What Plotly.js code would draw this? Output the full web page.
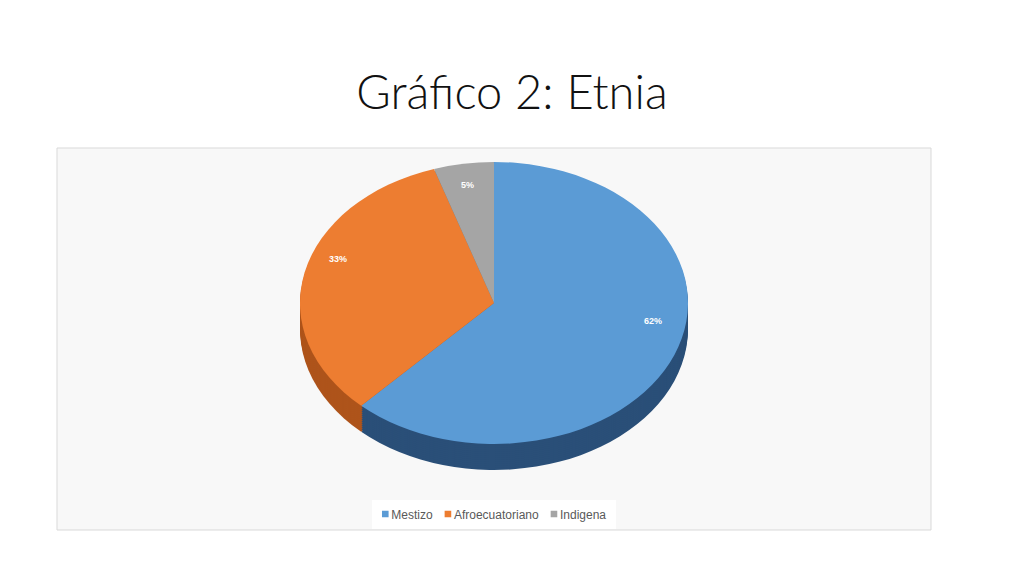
<!DOCTYPE html>
<html>
<head>
<meta charset="utf-8">
<script src="https://cdn.plot.ly/plotly-3.0.1.min.js"></script>
<style>
  html, body { margin: 0; padding: 0; background: #ffffff; }
  #chart { width: 1024px; height: 576px; }
</style>
</head>
<body>
<div id="chart"></div>
<script>
// datos del gráfico
const categorias = ['Mestizo', 'Afroecuatoriano', 'Indigena'];
const valores = [62, 33, 5];
const coloresCara = ['#5B9BD5', '#ED7D31', '#A5A5A5'];
const coloresLado = ['#2A4F78', '#AE541B', '#707070'];

const W = 1024, H = 576;
const cx = 494;          // centro horizontal del pastel (px)
const cy = 303;          // centro vertical de la cara superior (px)
const R = 194;           // radio horizontal (px)
const s = 141 / R;       // aplanado vertical (efecto 3D)
const depth = 26;        // grosor del lateral (px)

// dominio de un pastel centrado en (cx, yc) antes del aplanado
function dominio(yc) {
    return {
        x: [(cx - R) / W, (cx + R) / W],
        y: [(H - yc - R) / H, (H - yc + R) / H]
    };
}

const data = [];

// capas del lateral, de abajo hacia arriba
for (let d = depth; d > 0; d -= 2) {
    data.push({
        type: 'pie',
        labels: categorias,
        values: valores,
        sort: false,
        direction: 'clockwise',
        rotation: 0,
        textinfo: 'none',
        hoverinfo: 'skip',
        showlegend: false,
        marker: { colors: coloresLado, line: { width: 0 } },
        domain: dominio(cy + d / s)
    });
}

// cara superior
data.push({
    type: 'pie',
    labels: categorias,
    values: valores,
    sort: false,
    direction: 'clockwise',
    rotation: 0,
    textinfo: 'none',
    hoverinfo: 'label+percent',
    marker: { colors: coloresCara, line: { width: 0 } },
    domain: dominio(cy)
});

// etiquetas de porcentaje a partir de los valores
const total = valores.reduce((a, b) => a + b, 0);
const annotations = [];
let acumulado = 0;
const cyEtiqueta = 282, kx = 0.88, ky = 0.75;
valores.forEach((v, i) => {
    const medio = (acumulado + v / 2) / total;
    acumulado += v;
    const th = 2 * Math.PI * medio;
    const px = cx + kx * R * Math.sin(th);
    const py = cyEtiqueta - ky * R * s * Math.cos(th);
    annotations.push({
        xref: 'paper', yref: 'paper',
        x: px / W, y: 1 - py / H,
        text: Math.round(v / total * 100) + '%',
        showarrow: false,
        font: { family: 'Liberation Sans, Arial', size: 9, color: '#FFFFFF', weight: 'bold' }
    });
});

const layout = {
    width: W,
    height: H,
    margin: { l: 0, r: 0, t: 0, b: 0 },
    paper_bgcolor: '#FFFFFF',
    title: {
        text: 'Gráfico 2: Etnia',
        x: 0.5, xref: 'paper', xanchor: 'center',
        y: 1 - 93 / H, yref: 'container', yanchor: 'middle',
        font: { family: 'Lato, Open Sans, sans-serif', size: 47, color: '#111111', weight: 300 }
    },
    shapes: [{
        type: 'rect', xref: 'paper', yref: 'paper', layer: 'below',
        x0: 57 / W, x1: 931 / W, y0: 1 - 530 / H, y1: 1 - 148 / H,
        line: { color: '#D9D9D9', width: 1 },
        fillcolor: '#F8F8F8'
    }],
    annotations: annotations,
    legend: {
        orientation: 'h',
        x: 0.5, xanchor: 'center',
        y: 1 - 514 / H, yanchor: 'middle',
        bgcolor: '#FFFFFF',
        font: { family: 'Liberation Sans, Arial', size: 12, color: '#595959' },
        itemwidth: 30,
        traceorder: 'normal'
    }
};

const config = { displayModeBar: false, staticPlot: true };

Plotly.newPlot('chart', data, layout, config).then(function (gd) {
    // aplanar el pastel para la vista en perspectiva
    const capa = gd.querySelector('.pielayer');
    if (capa) {
        capa.setAttribute('transform', `translate(0,${cy}) scale(1,${s}) translate(0,${-cy})`);
    }

    // leyenda compacta, como en la hoja original
    const leyenda = gd.querySelector('.legend');
    if (!leyenda) return;
    gd.querySelectorAll('.legendpoints path').forEach(function (p) {
        p.setAttribute('transform', 'translate(34,0) scale(0.55)');
    });
    let cur = 10;
    gd.querySelectorAll('.legend .traces').forEach(function (g) {
        const m = /translate\(([-\d.]+)[ ,]+([-\d.]+)\)/.exec(g.getAttribute('transform') || '');
        const ty = m ? parseFloat(m[2]) : 0;
        const t = g.querySelector('.legendtext');
        const w = t ? t.getComputedTextLength() : 0;
        g.setAttribute('transform', `translate(${cur - 30.7},${ty})`);
        cur += 9.3 + w + 12;
    });
    const ancho = cur - 12 + 10;
    const bg = leyenda.querySelector('rect.bg');
    if (bg) bg.setAttribute('width', ancho);
    const lm = /translate\(([-\d.]+)[ ,]+([-\d.]+)\)/.exec(leyenda.getAttribute('transform') || '');
    const ly = lm ? parseFloat(lm[2]) : 0;
    leyenda.setAttribute('transform', `translate(${494 - ancho / 2},${ly})`);
});
</script>
</body>
</html>
